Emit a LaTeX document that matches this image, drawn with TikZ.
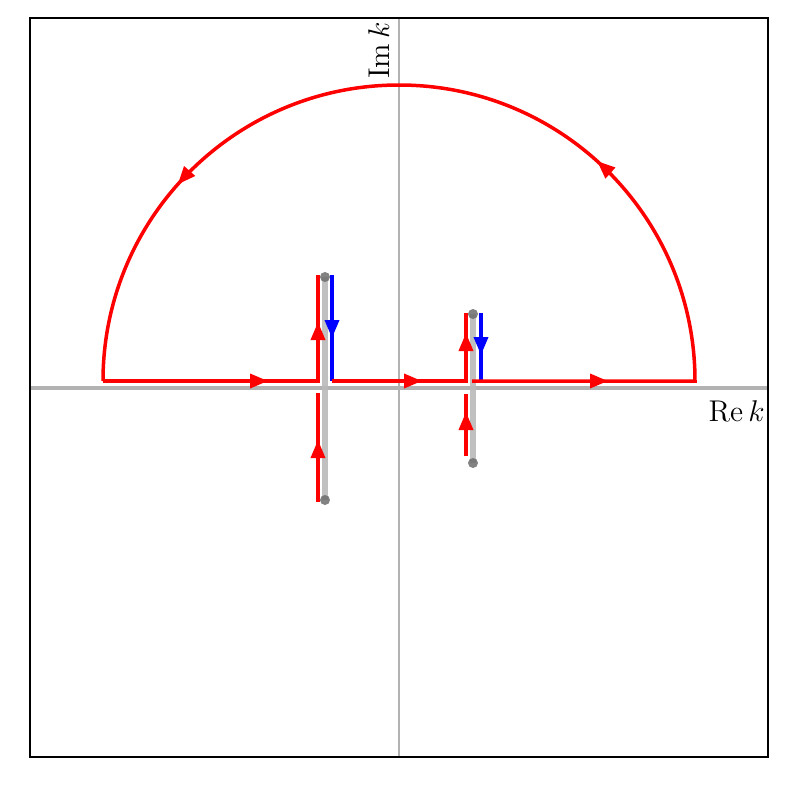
\documentclass[tikz,border=0pt]{standalone}
\usepackage{fix-cm}
\usetikzlibrary{arrows.meta,decorations.markings}
\begin{document}
\begin{tikzpicture}[x=0.5pt,y=-0.5pt,
  frame/.style={draw=black,line width=0.8pt},
  axis/.style={draw=gray!60,line width=#1},
  cutline/.style={draw=gray!55,line width=3pt,opacity=0.9},
  cutdot/.style={fill=gray!85!black,opacity=0.85},
  redpath/.style={draw=red,line width=1.75pt,line join=miter},
  bluepath/.style={draw=blue,line width=1.75pt},
  arrowat/.style={postaction={decorate,decoration={markings,
      mark=at position #1 with {\arrow{Triangle[length=9pt,width=7pt]}}}}},
  lbl/.style={font=\fontsize{15}{18}\selectfont,inner sep=0pt}
]
\useasboundingbox (0,0) rectangle (788,788);
% axes
\coordinate (xl) at (30,388); \coordinate (xr) at (768,388);
\coordinate (yt) at (399,18); \coordinate (yb) at (399,757);
\draw[axis=2.4pt] (xl) -- (xr);
\draw[axis=1.1pt] (yt) -- (yb);
% branch cuts
\coordinate (c1t) at (325,277); \coordinate (c1b) at (325,500);
\coordinate (c2t) at (473,314); \coordinate (c2b) at (473,463);
\draw[cutline] (c1t) -- (c1b);
\draw[cutline] (c2t) -- (c2b);
\fill[cutdot] (c1t) circle[radius=5];
\fill[cutdot] (c1b) circle[radius=5];
\fill[cutdot] (c2t) circle[radius=5];
\fill[cutdot] (c2b) circle[radius=5];
% contour
\coordinate (p0) at (103,381);
\coordinate (p1) at (318,381); \coordinate (p2) at (318,275);
\coordinate (b1t) at (332,275); \coordinate (b1b) at (332,381);
\coordinate (p3) at (466,381); \coordinate (p4) at (466,313);
\coordinate (b2t) at (481,313); \coordinate (b2b) at (481,381);
\coordinate (p5) at (472,381); \coordinate (p6) at (695,381);
\draw[redpath,arrowat=82.5pt,arrowat=137pt] (p0) -- (p1) -- (p2);
\draw[bluepath,arrowat=31.5pt] (b1t) -- (b1b);
\draw[redpath,arrowat=45pt,arrowat=91pt] (b1b) -- (p3) -- (p4);
\draw[bluepath,arrowat=21pt] (b2t) -- (b2b);
\draw[redpath,arrowat=68pt,arrowat=235.5pt,arrowat=469pt] (p5) -- (p6)
  arc[start angle=0,end angle=-180,radius=296];
% lower segments
\coordinate (l1b) at (318,502); \coordinate (l1t) at (318,393);
\coordinate (l2b) at (466,456); \coordinate (l2t) at (466,394);
\draw[redpath,arrowat=31pt] (l1b) -- (l1t);
\draw[redpath,arrowat=22pt] (l2b) -- (l2t);
% frame
\draw[frame] (30,18) rectangle (768,757);
% labels
\node[lbl,anchor=north east] (rek) at (765,400) {$\mathrm{Re}\,k$};
\node[lbl,rotate=90,anchor=north east] (imk) at (368,22) {$\mathrm{Im}\,k$};
\end{tikzpicture}
\end{document}
